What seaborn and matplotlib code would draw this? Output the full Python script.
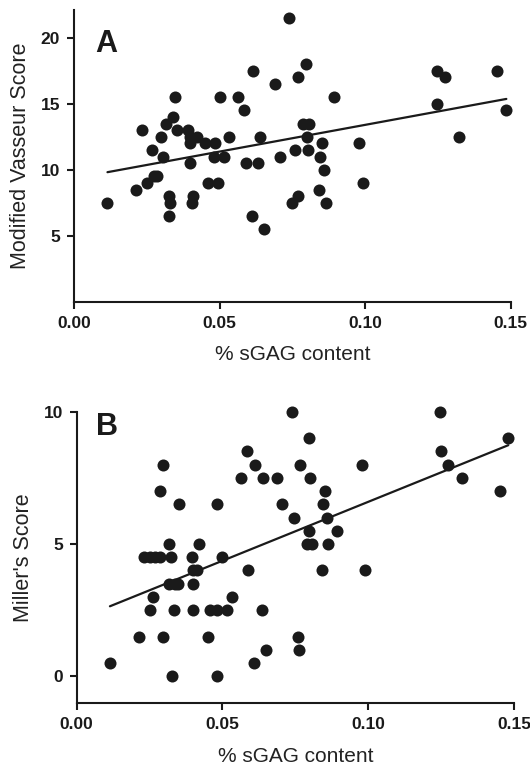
import matplotlib
matplotlib.use('Agg')
import matplotlib.pyplot as plt
import numpy as np
import seaborn as sns

# Panel A: % sGAG content vs Modified Vasseur Score
sgag_a = [
    0.0115, 0.0212, 0.0235, 0.0252, 0.0267, 0.0275, 0.0284, 0.0298, 0.0307, 0.0315,
    0.0325, 0.0327, 0.0330, 0.0340, 0.0346, 0.0353, 0.0393, 0.0397, 0.0400, 0.0400,
    0.0408, 0.0405, 0.0424, 0.0450, 0.0462, 0.0485, 0.0482, 0.0493, 0.0502, 0.0516,
    0.0533, 0.0564, 0.0584, 0.0590, 0.0615, 0.0612, 0.0633, 0.0639, 0.0651, 0.0692,
    0.0740, 0.0797, 0.0768, 0.0892, 0.0787, 0.0806, 0.0800, 0.0706, 0.0760, 0.0804,
    0.0852, 0.0844, 0.0860, 0.0980, 0.0992, 0.0842, 0.0768, 0.0749, 0.0866, 0.1248,
    0.1273, 0.1248, 0.1321, 0.1452, 0.1485,
]
vasseur = [
    7.5, 8.5, 13.0, 9.0, 11.5, 9.5, 9.5, 12.5, 11.0, 13.5,
    8.0, 6.5, 7.5, 14.0, 15.5, 13.0, 13.0, 12.5, 12.0, 10.5,
    8.0, 7.5, 12.5, 12.0, 9.0, 12.0, 11.0, 9.0, 15.5, 11.0,
    12.5, 15.5, 14.5, 10.5, 17.5, 6.5, 10.5, 12.5, 5.5, 16.5,
    21.5, 18.0, 17.0, 15.5, 13.5, 13.5, 12.5, 11.0, 11.5, 11.5,
    12.0, 11.0, 10.0, 12.0, 9.0, 8.5, 8.0, 7.5, 7.5, 17.5,
    17.0, 15.0, 12.5, 17.5, 14.5,
]

# Panel B: % sGAG content vs Miller's Score
sgag_b = [
    0.0114, 0.0212, 0.0231, 0.0252, 0.0269, 0.0286, 0.0252, 0.0263, 0.0286, 0.0295,
    0.0297, 0.0318, 0.0322, 0.0318, 0.0337, 0.0349, 0.0327, 0.0332, 0.0352, 0.0394,
    0.0400, 0.0412, 0.0398, 0.0398, 0.0421, 0.0452, 0.0457, 0.0482, 0.0515, 0.0480,
    0.0482, 0.0500, 0.0532, 0.0563, 0.0583, 0.0611, 0.0638, 0.0589, 0.0635, 0.0609,
    0.0649, 0.0737, 0.0795, 0.0688, 0.0766, 0.0800, 0.0980, 0.0852, 0.0703, 0.0844,
    0.0745, 0.0858, 0.0798, 0.0892, 0.0789, 0.0806, 0.0863, 0.0840, 0.0990, 0.0760,
    0.0764, 0.1246, 0.1249, 0.1275, 0.1320, 0.1450, 0.1480,
]
miller = [
    0.5, 1.5, 4.5, 4.5, 4.5, 4.5, 2.5, 3.0, 7.0, 8.0,
    1.5, 5.0, 4.5, 3.5, 3.5, 3.5, 0.0, 2.5, 6.5, 4.5,
    4.0, 4.0, 3.5, 2.5, 5.0, 1.5, 2.5, 2.5, 2.5, 0.0,
    6.5, 4.5, 3.0, 7.5, 8.5, 8.0, 7.5, 4.0, 2.5, 0.5,
    1.0, 10.0, 9.0, 7.5, 8.0, 7.5, 8.0, 7.0, 6.5, 6.5,
    6.0, 6.0, 5.5, 5.5, 5.0, 5.0, 5.0, 4.0, 4.0, 1.5,
    1.0, 10.0, 8.5, 8.0, 7.5, 7.0, 9.0,
]

x_ticks = [0.0, 0.05, 0.10, 0.15]
a_yticks = [5, 10, 15, 20]
b_yticks = [0, 5, 10]

sns.set_style('ticks')
plt.rcParams['font.family'] = ['Liberation Sans', 'DejaVu Sans']

ink = '#1a1a1a'
fig = plt.figure(figsize=(5.3, 7.7), dpi=100)
ax_a = fig.add_axes([0.1396, 0.6078, 0.824, 0.3792])
ax_b = fig.add_axes([0.1447, 0.0874, 0.8253, 0.3779])


def draw_panel(ax, x, y, ylabel, yticks, ylim, letter, letter_pos, xpad, ypad):
    sns.regplot(
        x=np.array(x), y=np.array(y), ax=ax, ci=None,
        scatter_kws=dict(s=75, color=ink, alpha=1, linewidths=0, zorder=3,
                         clip_on=False),
        line_kws=dict(color=ink, lw=1.6, zorder=4),
    )
    ax.set_xlim(0, 0.15)
    ax.set_ylim(*ylim)
    ax.set_xticks(x_ticks)
    ax.set_xticklabels([f'{t:.2f}' for t in x_ticks])
    ax.set_yticks(yticks)
    ax.set_yticklabels([str(t) for t in yticks])
    for lab in ax.get_xticklabels() + ax.get_yticklabels():
        lab.set_fontweight('bold')
    ax.tick_params(length=5, width=1.5, labelsize=12.5, colors=ink, pad=5)
    for side in ('left', 'bottom'):
        ax.spines[side].set_linewidth(1.5)
        ax.spines[side].set_color(ink)
    sns.despine(ax=ax)
    ax.set_xlabel('% sGAG content', fontsize=15, color='#222222', labelpad=xpad)
    ax.set_ylabel(ylabel, fontsize=15.5, color='#222222', labelpad=ypad)
    ax.text(letter_pos[0], letter_pos[1], letter, transform=ax.transAxes,
            fontsize=22, fontweight='bold', color=ink, va='baseline')


draw_panel(ax_a, sgag_a, vasseur, 'Modified Vasseur Score', a_yticks, (0, 22.1),
           'A', (0.048, 0.856), 10, 7)
draw_panel(ax_b, sgag_b, miller, "Miller's Score", b_yticks, (-1, 10),
           'B', (0.044, 0.92), 11, 7)

fig.savefig('out.png', dpi=100)
